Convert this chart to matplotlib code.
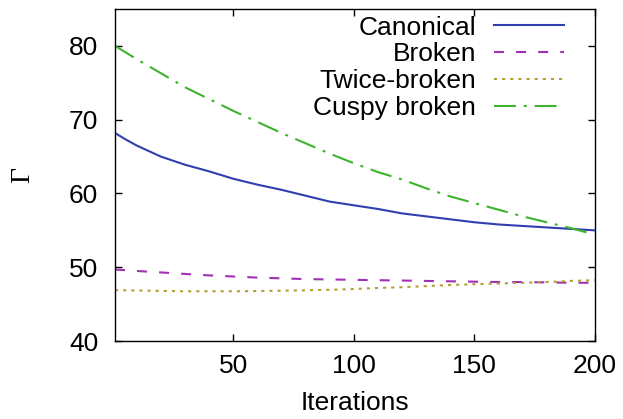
import matplotlib.pyplot as plt

it_canon = [1, 5, 10, 20, 30, 40, 50, 60, 70, 80, 90, 100, 110, 120, 130, 140, 150, 160, 170, 180, 190, 200]
canonical = [68.2, 67.4, 66.5, 65.0, 63.9, 63.0, 62.0, 61.2, 60.5, 59.7, 58.9, 58.4, 57.9, 57.3, 56.9, 56.5, 56.1, 55.8, 55.6, 55.4, 55.2, 55.0]

it_other = [1, 10, 20, 30, 40, 50, 60, 70, 80, 90, 100, 110, 120, 130, 140, 150, 160, 170, 180, 190, 200]
broken = [49.7, 49.5, 49.3, 49.1, 48.9, 48.75, 48.6, 48.5, 48.4, 48.35, 48.3, 48.25, 48.2, 48.15, 48.1, 48.05, 48.0, 48.0, 47.95, 47.9, 47.9]
twice_broken = [46.9, 46.85, 46.8, 46.75, 46.75, 46.75, 46.78, 46.82, 46.88, 46.95, 47.05, 47.2, 47.3, 47.45, 47.6, 47.7, 47.8, 47.9, 48.0, 48.15, 48.25]

it_cuspy = [1, 10, 20, 30, 40, 50, 60, 70, 80, 90, 100, 110, 120, 130, 140, 150, 160, 170, 180, 190, 198]
cuspy = [80.0, 78.2, 76.3, 74.4, 72.8, 71.2, 69.7, 68.2, 66.8, 65.4, 64.1, 62.9, 61.9, 60.7, 59.6, 58.7, 57.8, 56.9, 56.1, 55.3, 54.6]

xticks = [50, 100, 150, 200]
yticks = [40, 50, 60, 70, 80]

plt.rcParams['font.family'] = ['Liberation Sans', 'DejaVu Sans']

fig = plt.figure(figsize=(6.23, 4.19), dpi=100)
ax = fig.add_axes([0.1846, 0.186, 0.7705, 0.7925])

ax.plot(it_canon, canonical, color='#2f3fb0', lw=1.5, label='Canonical')
ax.plot(it_other, broken, color='#a030b4', lw=1.5, ls=(0, (4.8, 5.8)), label='Broken')
ax.plot(it_other, twice_broken, color='#b4a032', lw=1.5, ls=(0, (1.5, 2.4)), label='Twice-broken')
ax.plot(it_cuspy, cuspy, color='#3cb42c', lw=1.5, ls=(0, (10.5, 3.8, 1.4, 3.8)), label='Cuspy broken')

ax.set_xlim(1, 200)
ax.set_ylim(40, 85)
ax.set_xticks(xticks)
ax.set_yticks(yticks)
ax.tick_params(direction='in', length=5, width=1, top=True, right=True, labelsize=19, pad=9)
ax.tick_params(axis='y', pad=12)
for s in ax.spines.values():
    s.set_linewidth(1)

ax.set_xlabel('Iterations', fontsize=19, labelpad=10)
ax.set_ylabel('Γ', fontsize=20, family=['Liberation Serif', 'DejaVu Serif'], labelpad=24)

ax.legend(loc='upper right', bbox_to_anchor=(0.935, 0.98), frameon=False, markerfirst=False,
          fontsize=19, handlelength=2.65, handletextpad=0.68, labelspacing=0.105,
          borderpad=0, borderaxespad=0)

fig.savefig('out.png', dpi=100)
